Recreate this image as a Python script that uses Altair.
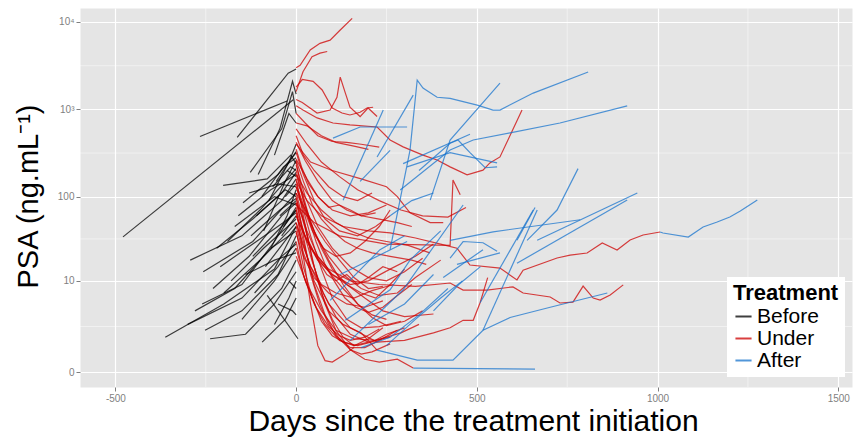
import altair as alt
import pandas as pd

# PSA trajectories (day since treatment initiation, PSA in ng/mL), one list per patient segment
BEFORE = [
    [(-479, 34), (-8, 1290)],
    [(-266, 490), (-25, 1250)],
    [(-163, 480), (-22, 2600), (0, 2900)],
    [(-362, 1.5), (-200, 5), (-60, 14), (0, 45)],
    [(-293, 18), (-150, 35), (-40, 90), (0, 160)],
    [(-257, 13), (-120, 30), (-30, 80), (0, 110)],
    [(-260, 5), (-150, 9), (-60, 30), (0, 75)],
    [(-238, 1.4), (-140, 1.7), (-60, 5), (0, 13)],
    [(-94, 1.2), (-30, 3), (0, 6)],
    [(-202, 135), (-80, 160), (-15, 300), (0, 240)],
    [(-147, 85), (-50, 180), (0, 320)],
    [(-127, 190), (-40, 600), (-10, 1600), (0, 900)],
    [(-80, 6.5), (5, 1.4)],
    [(-252, 2.0), (-150, 4), (-50, 12), (0, 35)],
    [(-105, 180), (-45, 600), (-10, 2100), (0, 1500)],
    [(-60, 300), (-20, 900), (0, 700)],
    [(-90, 40), (-30, 150), (0, 260)],
    [(-70, 25), (-25, 60), (0, 120)],
    [(-120, 20), (-40, 45), (0, 70)],
    [(-180, 10), (-90, 25), (0, 55)],
    [(-200, 7), (-100, 18), (-20, 40), (0, 50)],
    [(-150, 3), (-60, 10), (0, 25)],
    [(-45, 60), (0, 90)],
    [(-30, 100), (0, 140)],
    [(-110, 60), (-40, 110), (0, 190)],
    [(-75, 90), (-20, 250), (0, 400)],
    [(-55, 150), (0, 330)],
    [(-220, 25), (-120, 55), (-30, 120), (0, 100)],
    [(-170, 45), (-60, 100), (0, 80)],
    [(-140, 12), (-60, 18), (0, 22)],
    [(-100, 4), (-40, 8), (0, 18)],
    [(-300, 2.5), (-150, 6), (-40, 20), (0, 28)],
    [(-40, 35), (0, 60)],
    [(-25, 200), (0, 170)],
    [(-65, 130), (-15, 220), (0, 200)],
    [(-130, 110), (-50, 140), (0, 130)],
    [(-20, 10), (0, 8)],
    [(-50, 5), (-10, 4), (0, 3.5)],
    [(-85, 15), (-20, 35), (0, 45)],
    [(-230, 8), (-130, 20), (-40, 60), (0, 85)],
    [(-190, 30), (-100, 70), (-30, 150), (0, 210)],
    [(-115, 7), (-50, 15), (0, 30)],
    [(-160, 60), (-70, 120), (0, 180)],
    [(-35, 45), (0, 70)],
    [(-95, 100), (-35, 220), (0, 280)],
    [(-280, 4), (-170, 8), (-70, 25), (0, 40)],
    [(-60, 2.5), (-20, 6), (0, 10)],
    [(-125, 35), (-45, 70), (0, 95)],
    [(-210, 15), (-110, 30), (-35, 50), (0, 65)],
]

UNDER = [
    [(0, 3000), (11, 3200), (39, 4800), (66, 5700), (94, 6200), (122, 8100), (155, 11000)],
    [(0, 1600), (19, 2700), (44, 4000), (66, 4400), (86, 4600)],
    [(0, 1800), (17, 2200), (47, 2100), (72, 1670), (100, 1040), (127, 910), (149, 865),
     (177, 930), (196, 1040), (213, 1060)],
    [(0, 1300), (17, 1200), (58, 910), (94, 985), (113, 1380), (122, 2340), (136, 1550),
     (149, 1060), (177, 830), (199, 1040), (224, 830)],
    [(0, 1100), (19, 985), (58, 800), (102, 700), (149, 665), (224, 630), (260, 447),
     (296, 373), (351, 300), (390, 264), (426, 220), (473, 178), (517, 202), (536, 244),
     (564, 286), (625, 985)],
    [(0, 700), (30, 650), (70, 500), (110, 420), (160, 380), (200, 350)],
    [(0, 80), (50, 50), (120, 35), (250, 28), (426, 27), (434, 155), (454, 105)],
    [(0, 150), (30, 90), (70, 60), (130, 45), (200, 40), (260, 38), (330, 33), (400, 28),
     (445, 25), (481, 15.7), (564, 14.4), (611, 10.3), (628, 13.6), (722, 19.1),
     (758, 20.7), (805, 21.9), (847, 28.8), (888, 23.8), (924, 31.3), (960, 35.8),
     (1007, 38.8)],
    [(0, 60), (40, 25), (90, 14), (150, 10), (230, 9), (330, 8.5), (426, 9.4), (462, 7.65),
     (528, 7.65), (600, 8.4), (628, 7.0), (703, 6.2), (730, 5.15), (766, 5.3), (794, 8.6),
     (822, 6.0), (841, 5.65), (869, 6.6), (905, 8.9)],
    [(0, 160), (20, 60), (45, 18), (70, 7), (100, 3), (130, 1.5), (160, 1.0), (200, 1.4),
     (240, 2.2)],
    [(0, 110), (25, 45), (50, 15), (80, 5), (110, 2), (150, 0.8), (190, 0.4), (230, 0.3),
     (280, 0.4), (324, 0.11)],
    [(0, 250), (15, 120), (40, 50), (70, 25), (100, 14), (140, 9), (180, 7), (220, 6),
     (260, 9), (300, 14)],
    [(0, 75), (20, 20), (40, 5), (60, 1.0), (80, 0.35), (100, 0.3), (130, 0.55), (160, 0.9)],
    [(0, 320), (20, 180), (50, 90), (80, 55), (120, 40), (170, 35), (220, 45), (260, 60)],
    [(0, 45), (20, 22), (50, 10), (90, 4), (130, 2.5), (180, 1.8), (224, 0.78)],
    [(0, 500), (20, 300), (50, 200), (90, 130), (130, 100), (170, 90), (210, 110)],
    [(0, 95), (30, 40), (60, 20), (100, 12), (150, 9), (200, 10), (260, 14), (330, 20),
     (380, 28)],
    [(0, 140), (25, 70), (55, 35), (90, 20), (130, 12), (180, 8), (230, 6.5), (280, 7),
     (330, 11), (400, 18)],
    [(0, 30), (20, 12), (50, 5), (80, 2.5), (120, 1.3), (160, 1.0), (200, 1.2)],
    [(0, 200), (20, 90), (50, 40), (90, 18), (130, 9), (170, 5), (210, 3.5), (250, 3.0)],
    [(0, 60), (30, 30), (60, 18), (100, 12), (140, 9), (190, 6), (240, 4), (300, 3.3),
     (380, 3.6)],
    [(0, 130), (20, 70), (40, 35), (70, 14), (100, 6), (140, 3), (180, 2.2), (230, 2.3),
     (290, 2.8)],
    [(0, 420), (25, 260), (60, 150), (100, 90), (140, 70), (180, 60), (230, 55), (280, 50),
     (320, 45)],
    [(0, 85), (20, 40), (45, 17), (75, 7), (110, 3.3), (150, 1.7), (200, 1.2), (260, 1.5)],
    [(0, 180), (30, 110), (70, 70), (110, 50), (150, 40), (200, 33), (250, 30), (310, 27),
     (370, 22)],
    [(0, 50), (15, 30), (40, 15), (70, 9), (110, 7), (160, 6), (210, 7.5), (270, 9)],
    [(0, 230), (25, 100), (60, 45), (100, 25), (150, 15), (200, 11), (250, 10), (300, 13),
     (350, 19)],
    [(0, 20), (30, 9), (70, 4), (110, 2), (160, 1.4), (220, 1.3), (290, 1.8), (340, 2.5)],
    [(0, 110), (40, 55), (80, 30), (120, 18), (160, 11), (200, 8), (240, 8.5)],
    [(0, 270), (30, 160), (60, 100), (100, 70), (150, 60), (200, 65), (250, 80)],
    [(0, 65), (25, 25), (50, 9), (80, 3.5), (110, 1.6), (150, 0.9), (190, 0.9), (230, 1.3),
     (280, 2.0)],
    [(0, 38), (20, 20), (50, 11), (90, 7), (140, 5), (190, 4.5), (240, 5.5)],
    [(0, 50), (40, 15), (90, 5), (150, 2.2), (224, 1.2), (300, 1.3), (380, 1.8), (426, 2.2),
     (462, 2.9), (490, 2.9), (509, 5.2), (530, 11)],
    [(0, 400), (40, 250), (100, 200), (180, 160), (250, 130), (280, 100), (315, 65),
     (371, 50), (407, 50)],
    [(0, 600), (30, 400), (70, 250), (120, 170), (170, 120), (230, 90), (290, 70), (350, 60),
     (420, 58), (470, 75)],
    [(0, 900), (25, 700), (60, 500), (100, 430), (140, 420), (180, 400), (230, 370)],
    [(0, 85), (15, 60), (35, 30), (60, 18), (85, 12), (110, 10), (140, 12), (170, 9),
     (200, 11), (240, 15), (280, 13)],
    [(0, 180), (15, 110), (35, 55), (55, 30), (80, 16), (105, 10), (135, 6), (165, 4.5),
     (200, 3.8), (240, 4.5), (280, 6.5), (320, 9)],
    [(0, 130), (20, 75), (45, 40), (75, 25), (110, 20), (150, 22), (190, 30), (230, 45),
     (260, 70)],
    [(0, 40), (20, 15), (45, 6), (70, 2.8), (100, 1.6), (130, 1.2), (170, 1.0), (210, 1.2),
     (250, 1.7), (300, 2.2)],
    [(0, 260), (20, 150), (45, 80), (70, 55), (100, 40), (135, 30), (170, 25), (210, 22),
     (260, 20), (320, 18), (360, 16)],
    [(0, 70), (25, 35), (55, 20), (90, 13), (130, 8), (170, 5), (210, 3.2), (250, 2.4),
     (300, 2.8), (350, 4)],
    [(0, 350), (15, 220), (35, 140), (60, 100), (90, 75), (120, 80), (150, 70), (180, 60),
     (220, 65)],
    [(0, 25), (25, 10), (55, 4.5), (90, 2.3), (120, 1.6), (150, 1.3), (190, 1.5), (230, 2.1)],
    [(0, 100), (20, 35), (40, 12), (65, 5), (90, 2.5), (120, 1.4), (150, 0.8), (180, 0.6),
     (210, 0.7), (260, 1.1)],
]

AFTER = [
    [(1007, 38.8), (1015, 37.8), (1085, 33.9), (1126, 44.4), (1165, 50.8), (1200, 58),
     (1229, 68), (1276, 91.5)],
    [(224, 0.78), (335, 0.37), (434, 0.37), (517, 2.0), (592, 3.2), (703, 4.5), (861, 7.0)],
    [(324, 0.11), (661, 0.08)],
    [(150, 1.3), (296, 7.7), (462, 80)],
    [(122, 12), (307, 30)],
    [(260, 24), (315, 340), (335, 2170), (351, 1760), (390, 1380), (426, 1340), (501, 1120),
     (545, 985), (564, 985), (656, 1540), (808, 2680)],
    [(102, 470), (177, 630), (307, 630)],
    [(130, 91), (241, 985)],
    [(224, 285), (324, 1460)],
    [(296, 240), (481, 520)],
    [(307, 220), (426, 320), (556, 244)],
    [(371, 91), (426, 447), (564, 2000)],
    [(288, 119), (426, 343), (490, 447), (592, 540), (730, 700), (916, 1100)],
    [(340, 200), (426, 410), (448, 447), (481, 320), (523, 215), (556, 220)],
    [(517, 2.0), (667, 70)],
    [(426, 31), (545, 39), (786, 54)],
    [(509, 5.2), (656, 70)],
    [(611, 16.5), (916, 91.5)],
    [(611, 31), (661, 75)],
    [(639, 31), (722, 70), (780, 210)],
    [(667, 31), (944, 110)],
    [(445, 16), (564, 22)],
    [(426, 19), (462, 30), (517, 29), (556, 23)],
    [(136, 2.9), (260, 7.7), (315, 18), (400, 40)],
    [(177, 150), (260, 340)],
    [(94, 5.6), (232, 24), (300, 35)],
    [(407, 11), (517, 24)],
    [(180, 0.9), (260, 1.5), (340, 3.5), (420, 8)],
    [(250, 1.0), (330, 3), (400, 6), (460, 10)],
    [(200, 2.5), (300, 5), (380, 12)],
    [(380, 4), (450, 9), (510, 15)],
    [(260, 60), (320, 90), (380, 110)],
]

GROUPS = ["Before", "Under", "After"]
COLORS = ["#000000", "#CD0000", "#1874CD"]

X_TICKS = [-500, 0, 500, 1000, 1500]
X_MINOR = [-250, 250, 750, 1250]
Y_TICKS = [0, 10, 100, 1000, 10000]
Y_TICK_LABELS = ["0", "10", "100", "10³", "10⁴"]
Y_MINOR = [2.31, 32.2, 317, 3161]

FONT = "Liberation Sans"

rows = []
for group, segments in zip(GROUPS, [BEFORE, UNDER, AFTER]):
    for k, seg in enumerate(segments):
        for j, (d, v) in enumerate(seg):
            rows.append({"id": f"{group}-{k}", "Treatment": group, "day": d,
                         "psa": v, "step": j})
df = pd.DataFrame(rows)

x_scale = alt.Scale(domain=[-598, 1538], nice=False, zero=False)
y_scale = alt.Scale(type="symlog", constant=1, domain=[-0.483, 14450], nice=False, zero=False)

label_expr = " : ".join(
    f"datum.value == {v} ? '{t}'" for v, t in zip(Y_TICKS, Y_TICK_LABELS)
) + " : datum.label"

x_axis = alt.Axis(
    values=X_TICKS, labelExpr="'' + datum.value", title="Days since the treatment initiation",
    titleX=393, titleY=43, titleBaseline="alphabetic", titleAlign="center",
    titleFontSize=30,
)
y_axis = alt.Axis(
    values=Y_TICKS, labelExpr=label_expr, title="PSA (ng.mL⁻¹)",
    titleX=-43, titleY=188, titleBaseline="alphabetic", titleAlign="center", titleAngle=270,
)

def x_enc(field):
    return alt.X(f"{field}:Q", scale=x_scale, axis=x_axis)

def y_enc(field):
    return alt.Y(f"{field}:Q", scale=y_scale, axis=y_axis)

minor_x = alt.Chart(pd.DataFrame({"day": X_MINOR})).mark_rule(
    color="white", strokeWidth=0.6, opacity=0.8
).encode(x=x_enc("day"))

minor_y = alt.Chart(pd.DataFrame({"psa": Y_MINOR})).mark_rule(
    color="white", strokeWidth=0.6, opacity=0.8
).encode(y=y_enc("psa"))

lines = alt.Chart(df).mark_line(strokeWidth=1.2, clip=True).encode(
    x=x_enc("day"),
    y=y_enc("psa"),
    color=alt.Color(
        "Treatment:N",
        scale=alt.Scale(domain=GROUPS, range=COLORS),
        sort=GROUPS,
        legend=alt.Legend(
            title="Treatment", orient="none", legendX=647, legendY=269,
            fillColor="white", padding=6, symbolType="stroke", symbolStrokeWidth=2,
            symbolSize=260, titleFontSize=22, titleFontWeight="bold", labelFontSize=21,
            titleColor="black", labelColor="black", titleFont=FONT, labelFont=FONT,
            rowPadding=0, titlePadding=1, labelOffset=3,
        ),
    ),
    detail="id:N",
    order="step:Q",
    opacity=alt.value(0.75),
)

chart = alt.layer(minor_x, minor_y, lines).properties(
    width=772, height=379,
    autosize=alt.AutoSizeParams(type="none"),
    padding={"left": 80, "top": 8, "right": 8, "bottom": 51},
    background="white",
).configure_view(
    fill="#E5E5E5", stroke="transparent"
).configure_axis(
    domain=False, grid=True, gridColor="white", gridWidth=1.2,
    tickColor="#7F7F7F", tickSize=4, labelColor="#7F7F7F", labelFontSize=10,
    labelFont=FONT, titleFont=FONT, titleFontSize=29, titleFontWeight="normal",
    titleColor="black", labelPadding=2,
)

chart.save("out.html", embed_options={"renderer": "svg", "actions": False})
